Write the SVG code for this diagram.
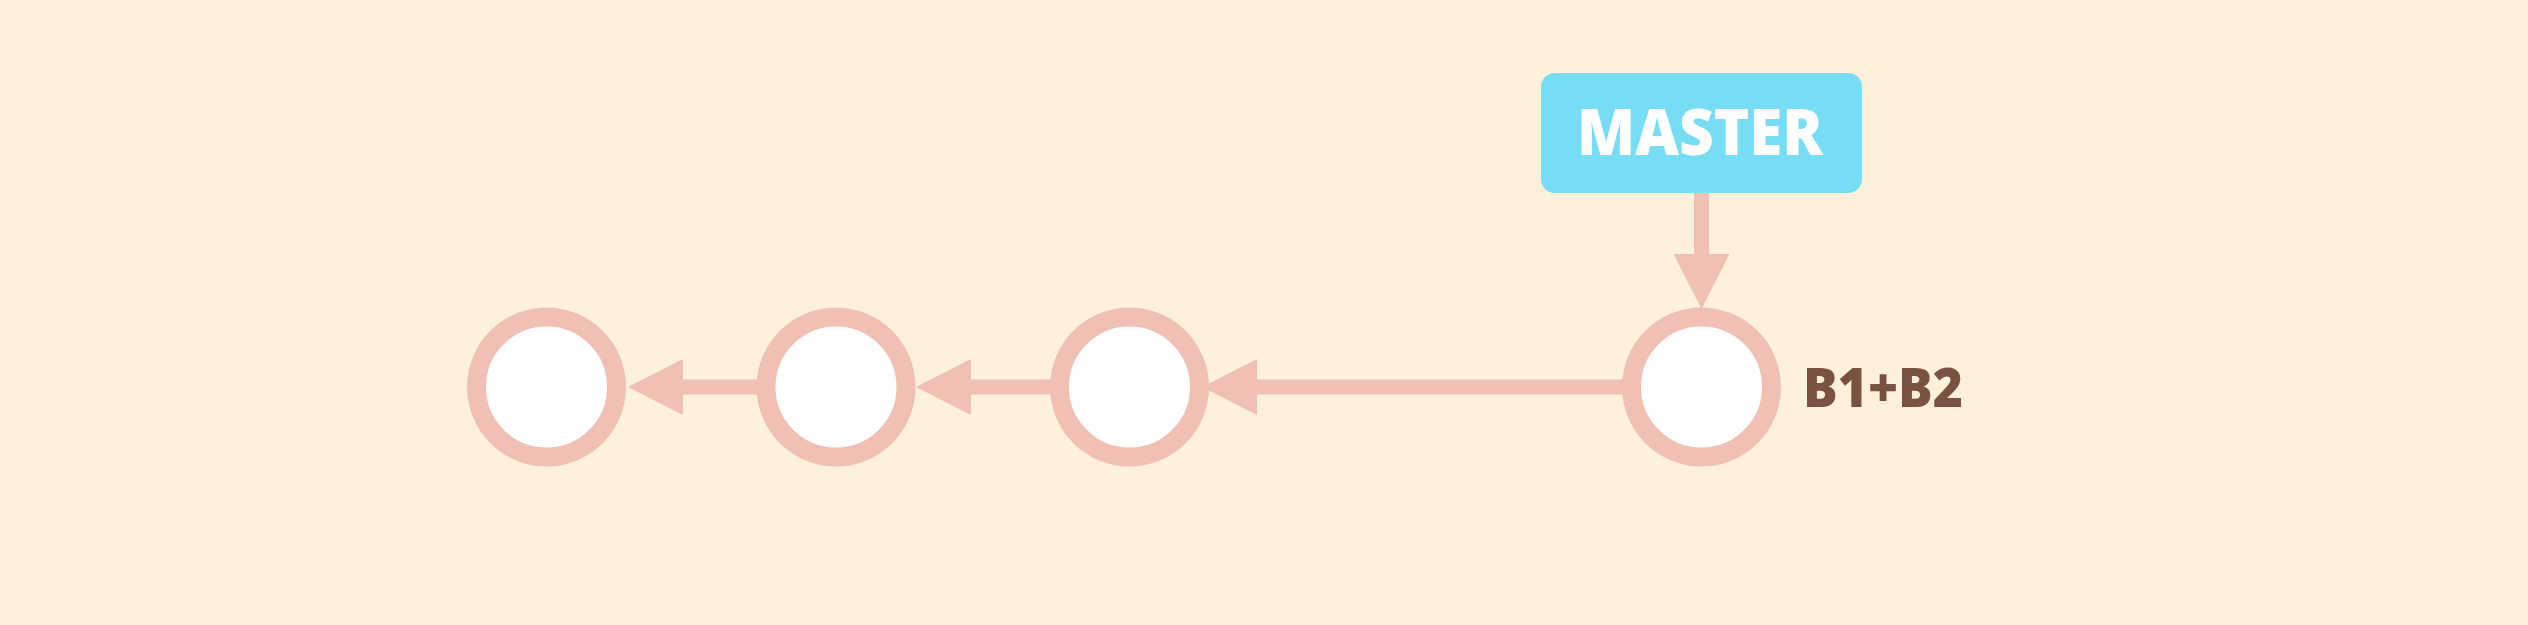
<svg xmlns="http://www.w3.org/2000/svg" width="2528" height="625" viewBox="0 0 2528 625">
<style>
.conn{stroke:#F0C0B5;stroke-width:15;fill:none;marker-end:url(#ah)}
.commit{fill:#FFFFFF;stroke:#F0C0B5;stroke-width:19}
.lbl{font-family:"Open Sans","Liberation Sans",sans-serif;font-weight:800}
</style>
<defs>
<marker id="ah" viewBox="0 0 55 56" refX="0" refY="28" markerWidth="55" markerHeight="56" markerUnits="userSpaceOnUse" orient="auto">
<path d="M0,0 L55,28 L0,56 Z" fill="#F0C0B5"/>
</marker>
</defs>
<rect width="2528" height="625" fill="#FDF1DB"/>
<g id="connectors">
<line class="conn" x1="757" y1="387" x2="683" y2="387"/>
<line class="conn" x1="1051" y1="387" x2="971" y2="387"/>
<line class="conn" x1="1624" y1="387" x2="1257" y2="387"/>
<line class="conn" x1="1701.5" y1="190" x2="1701.5" y2="254"/>
</g>
<g id="c1"><circle class="commit" cx="546.5" cy="387" r="70"/></g>
<g id="c2"><circle class="commit" cx="836" cy="387" r="70"/></g>
<g id="c3"><circle class="commit" cx="1129.5" cy="387" r="70"/></g>
<g id="c4"><circle class="commit" cx="1701.5" cy="387" r="70"/>
<text class="lbl" x="1803" y="407" font-size="54" fill="#7A5242" textLength="160" lengthAdjust="spacingAndGlyphs">B1+B2</text>
</g>
<g id="master">
<rect x="1541" y="73" width="321" height="120" rx="14" fill="#77DDF5"/>
<text class="lbl" x="1577" y="155" font-size="63" fill="#FFFFFF" textLength="246" lengthAdjust="spacingAndGlyphs">MASTER</text>
</g>
</svg>
